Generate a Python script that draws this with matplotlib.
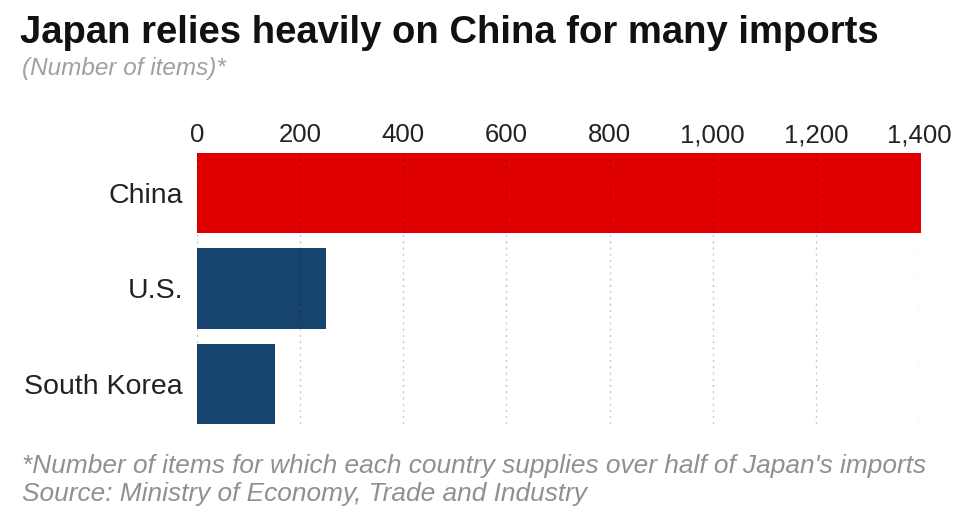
import matplotlib.pyplot as plt
from matplotlib.ticker import FuncFormatter

plt.rcParams['font.family'] = ['Liberation Sans', 'DejaVu Sans']

# --- data ---
countries = ['China', 'U.S.', 'South Korea']
items = [1403, 251, 151]
bar_colors = ['#e00000', '#17446f', '#17446f']
x_ticks = [0, 200, 400, 600, 800, 1000, 1200, 1400]

W, H = 960, 508
fig = plt.figure(figsize=(W / 100, H / 100), dpi=100)
fig.patch.set_facecolor('white')

# axes box in pixel terms of the reference
left, right, top, bottom = 197, 919, 153, 424
ax = fig.add_axes([left / W, 1 - bottom / H, (right - left) / W, (bottom - top) / H])

ypos = list(range(len(countries)))
ax.barh(ypos, items, height=0.84, color=bar_colors, zorder=1, clip_on=False)
ax.set_xlim(0, 1400)
ax.set_ylim(2.42, -0.42)

ax.set_xticks(x_ticks)
ax.xaxis.set_major_formatter(FuncFormatter(lambda v, p: f'{int(v):,}'))
ax.xaxis.tick_top()
ax.tick_params(axis='x', length=0, pad=4, labelsize=18.5, labelcolor='#222222')
ax.set_yticks(ypos)
ax.set_yticklabels(countries)
ax.tick_params(axis='y', length=0, pad=10, labelsize=20.5, labelcolor='#222222')

ax.grid(axis='x', color='black', alpha=0.22, linestyle=(0, (1.5, 3)), linewidth=1)
ax.set_axisbelow(False)
for s in ax.spines.values():
    s.set_visible(False)

fig.text(20 / W, 1 - 43 / H, 'Japan relies heavily on China for many imports',
         fontsize=27.5, fontweight='bold', color='#111111', va='baseline')
fig.text(22 / W, 1 - 75 / H, '(Number of items)*', fontsize=17.5, style='italic',
         color='#a0a0a0', va='baseline')
fig.text(22 / W, 1 - 473 / H,
         "*Number of items for which each country supplies over half of Japan's imports",
         fontsize=18.9, style='italic', color='#909090', va='baseline')
fig.text(22 / W, 1 - 501 / H, 'Source: Ministry of Economy, Trade and Industry',
         fontsize=18.9, style='italic', color='#909090', va='baseline')

fig.savefig('out.png', dpi=100)
